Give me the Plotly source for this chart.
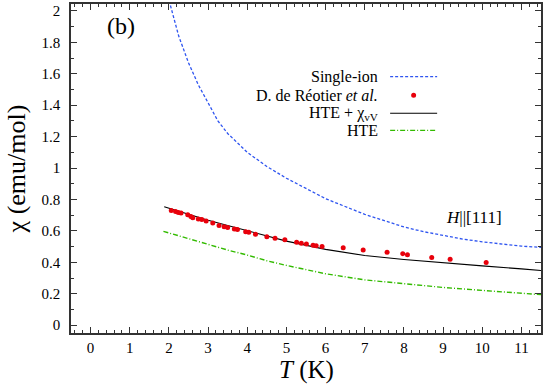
import plotly.graph_objects as go

# single-ion curve (blue dashed)
t_single = [1.9, 2.0, 2.25, 2.5, 2.75, 3.0, 3.25, 3.5, 4.0, 4.5, 5.0, 5.5, 6.0,
            6.5, 7.0, 7.5, 8.0, 8.5, 9.0, 9.5, 10.0, 10.5, 11.0, 11.5]
chi_single = [2.19, 2.07, 1.84, 1.67, 1.53, 1.41, 1.30, 1.22, 1.10, 1.01, 0.935,
              0.87, 0.805, 0.755, 0.705, 0.665, 0.625, 0.595, 0.57, 0.548, 0.53,
              0.515, 0.503, 0.495]

# HTE + chi_vV (black)
t_hte_vv = [1.88, 2.5, 3.0, 3.5, 4.0, 4.5, 5.0, 6.0, 7.0, 8.0, 9.0, 10.0, 11.0, 11.5]
chi_hte_vv = [0.753, 0.705, 0.668, 0.634, 0.601, 0.564, 0.535, 0.482, 0.443,
              0.418, 0.396, 0.377, 0.358, 0.348]

# HTE (green dash-dot)
t_hte = [1.86, 2.5, 3.0, 3.5, 4.0, 4.5, 5.0, 6.0, 7.0, 8.0, 9.0, 10.0, 11.0, 11.5]
chi_hte = [0.597, 0.549, 0.512, 0.478, 0.446, 0.410, 0.380, 0.327, 0.288,
           0.262, 0.240, 0.221, 0.202, 0.194]

# D. de Reotier et al. data (red dots)
t_exp = [2.06, 2.17, 2.24, 2.31, 2.48, 2.56, 2.61, 2.75, 2.84, 2.95, 3.12, 3.28,
         3.41, 3.50, 3.67, 3.75, 3.96, 4.04, 4.21, 4.50, 4.71, 4.96, 5.26, 5.38,
         5.51, 5.68, 5.76, 5.91, 6.45, 6.96, 7.57, 7.97, 8.09, 8.71, 9.18, 10.10]
chi_exp = [0.730, 0.724, 0.717, 0.713, 0.703, 0.692, 0.684, 0.675, 0.673, 0.663,
           0.650, 0.635, 0.627, 0.622, 0.612, 0.608, 0.595, 0.591, 0.578, 0.563,
           0.553, 0.544, 0.527, 0.521, 0.517, 0.508, 0.506, 0.500, 0.492, 0.479,
           0.464, 0.455, 0.448, 0.430, 0.420, 0.399]

legend_labels = ["Single-ion", "D. de Réotier <i>et al.</i>",
                 "HTE + χ<sub>vV</sub>", "HTE"]

blue = "#2f55f0"
green = "#33bb00"
red = "#e8000b"
font = "serif"

fig = go.Figure()
fig.add_trace(go.Scatter(x=t_single, y=chi_single, mode="lines",
                         line=dict(color=blue, width=1.3, dash="3px,2px")))
fig.add_trace(go.Scatter(x=t_hte_vv, y=chi_hte_vv, mode="lines",
                         line=dict(color="black", width=1.1)))
fig.add_trace(go.Scatter(x=t_hte, y=chi_hte, mode="lines",
                         line=dict(color=green, width=1.4, dash="5px,2px,1px,2px")))
fig.add_trace(go.Scatter(x=t_exp, y=chi_exp, mode="markers",
                         marker=dict(color=red, size=5)))

# hand-made legend: text on the left, sample on the right
rows_y = [0.779, 0.723, 0.668, 0.616]
styles = [dict(color=blue, width=1.3, dash="3px,2px"), None,
          dict(color="black", width=1.1),
          dict(color=green, width=1.4, dash="5px,2px,1px,2px")]
for label, yy, st in zip(legend_labels, rows_y, styles):
    fig.add_annotation(x=0.657, y=yy, xref="paper", yref="paper", text=label,
                       showarrow=False, xanchor="right", yanchor="middle",
                       font=dict(family=font, size=16, color="black"))
    if st is None:
        fig.add_shape(type="circle", xref="paper", yref="paper",
                      xsizemode="pixel", ysizemode="pixel",
                      xanchor=0.729, yanchor=yy, x0=-2.5, x1=2.5, y0=-2.5, y1=2.5,
                      fillcolor=red, line=dict(width=0))
    else:
        fig.add_shape(type="line", xref="paper", yref="paper",
                      x0=0.679, x1=0.779, y0=yy, y1=yy, line=st)

fig.add_annotation(x=0.106, y=0.934, xref="paper", yref="paper", text="(b)",
                   showarrow=False, xanchor="center", yanchor="middle",
                   font=dict(family=font, size=24, color="black"))
fig.add_annotation(x=0.858, y=0.35, xref="paper", yref="paper",
                   text="<i>H</i>||[111]", showarrow=False,
                   xanchor="center", yanchor="middle",
                   font=dict(family=font, size=17, color="black"))
fig.add_annotation(x=0.5, y=-0.112, xref="paper", yref="paper",
                   text="<i>T</i> (K)", showarrow=False,
                   xanchor="center", yanchor="middle",
                   font=dict(family=font, size=25, color="black"))

axis_common = dict(showgrid=False, zeroline=False, showline=True, mirror="ticks",
                   linecolor="#333", linewidth=1.5, ticks="inside", ticklen=6,
                   tickcolor="#333", tickwidth=1,
                   tickfont=dict(family=font, size=15, color="black"))
fig.update_xaxes(range=[-0.5, 11.5], dtick=1, tick0=0, ticklabelstandoff=0,
                 minor=dict(ticks="inside", dtick=0.2, ticklen=3, tickcolor="#333"),
                 **axis_common)
fig.update_yaxes(range=[-0.05, 2.044], dtick=0.2, tick0=0, ticklabelstandoff=6,
                 title=dict(text="χ (emu/mol)", standoff=8,
                            font=dict(family=font, size=26, color="black")),
                 minor=dict(ticks="inside", dtick=0.1, ticklen=3, tickcolor="#333"),
                 **axis_common)

fig.update_layout(width=545, height=384, showlegend=False,
                  margin=dict(l=71, r=3, t=2, b=51),
                  font=dict(family=font),
                  plot_bgcolor="white", paper_bgcolor="white")
fig.write_html("out.html", config={"displayModeBar": False},
               post_script="document.body.style.margin='0';")
